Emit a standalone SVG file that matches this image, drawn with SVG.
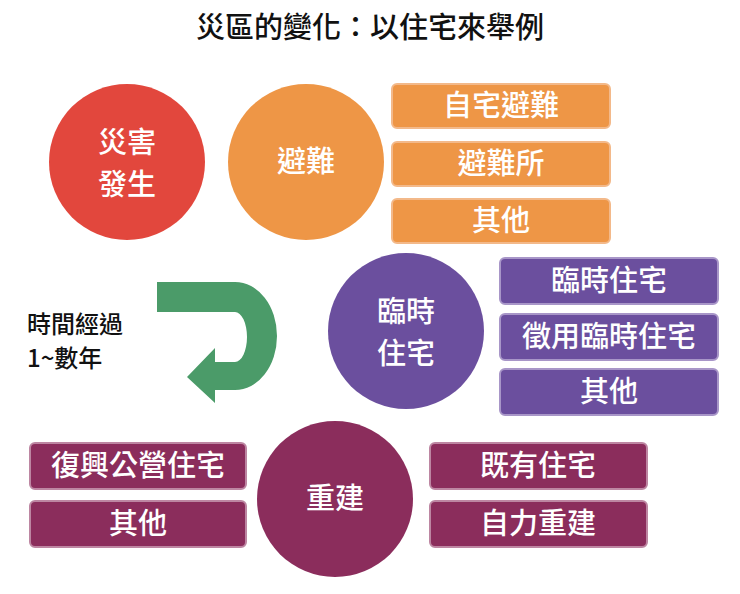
<svg xmlns="http://www.w3.org/2000/svg" width="740" height="594" viewBox="0 0 740 594">
<style>
text{font-family:"Noto Sans CJK TC","Noto Sans CJK SC",sans-serif;font-weight:500}
.t{fill:#fff;font-size:29px;text-anchor:middle}
.o{fill:#ee9646;stroke:#f3b98a;stroke-width:2}
.p{fill:#6b4f9e;stroke:#a896c8;stroke-width:2}
.m{fill:#8b2d5c;stroke:#bd86a2;stroke-width:2}
</style>
<rect width="740" height="594" fill="#fff"/>
<text x="370" y="38" font-size="29" text-anchor="middle" fill="#111" font-weight="bold">災區的變化：以住宅來舉例</text>
<g id="disaster"><circle cx="127" cy="162" r="78" fill="#e2473d"/><text class="t" x="127" y="153">災害</text><text class="t" x="127" y="195">發生</text></g>
<g id="evac"><circle cx="306" cy="162" r="78" fill="#ee9646"/><text class="t" x="306" y="172">避難</text></g>
<g id="evac-opts">
<rect class="o" x="392" y="84" width="218" height="44" rx="5"/><text class="t" x="501" y="116">自宅避難</text>
<rect class="o" x="392" y="142" width="218" height="44" rx="5"/><text class="t" x="501" y="174">避難所</text>
<rect class="o" x="392" y="199" width="218" height="44" rx="5"/><text class="t" x="501" y="231">其他</text>
</g>
<g id="temp"><circle cx="406" cy="331" r="78" fill="#6b4f9e"/><text class="t" x="406" y="322">臨時</text><text class="t" x="406" y="364">住宅</text></g>
<g id="temp-opts">
<rect class="p" x="500" y="258" width="218" height="46" rx="5"/><text class="t" x="609" y="291">臨時住宅</text>
<rect class="p" x="500" y="314" width="218" height="46" rx="5"/><text class="t" x="609" y="347">徵用臨時住宅</text>
<rect class="p" x="500" y="369" width="218" height="46" rx="5"/><text class="t" x="609" y="402">其他</text>
</g>
<g id="rebuild"><circle cx="335" cy="499" r="78" fill="#8b2d5c"/><text class="t" x="335" y="509">重建</text></g>
<g id="rebuild-opts">
<rect class="m" x="30" y="443" width="216" height="46" rx="5"/><text class="t" x="138" y="476">復興公營住宅</text>
<rect class="m" x="30" y="501" width="216" height="46" rx="5"/><text class="t" x="138" y="534">其他</text>
<rect class="m" x="430" y="443" width="217" height="46" rx="5"/><text class="t" x="538" y="476">既有住宅</text>
<rect class="m" x="430" y="501" width="217" height="46" rx="5"/><text class="t" x="538" y="534">自力重建</text>
</g>
<g id="connectors">
<path d="M157,282 H235 A42,54 0 0 1 235,390 H215 V403 L187,377 L215,348 V362 H235 A12,25 0 0 0 235,312 H157 Z" fill="#4b9b69"/>
</g>
<g id="time-label"><text x="27" y="333" font-size="24" fill="#111" font-weight="bold">時間經過</text><text x="27" y="367" font-size="24" fill="#111" font-weight="bold">1~數年</text></g>
</svg>
